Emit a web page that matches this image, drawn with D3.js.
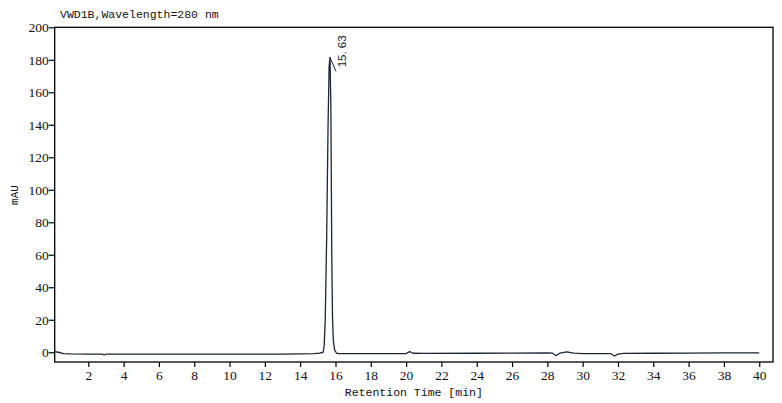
<!DOCTYPE html>
<meta charset="utf-8">
<style>
	body { margin: 0; background: white; }
	.mono { font-family: "Liberation Mono", "DejaVu Sans Mono", monospace; fill: #111; }
	.trace { fill: none; stroke: #1c2637; stroke-width: 1.3px; stroke-linejoin: round; }
</style>
<html>
<body>
<script src="https://d3js.org/d3.v7.min.js"></script>
<script>
	// retention time [min] and signal [mAU]
	var times = [0.1, 0.3, 0.6, 1, 2, 2.8, 2.9, 3.0, 4, 6, 8, 10, 12, 13, 14, 14.8, 15.1,
		15.3, 15.36, 15.42, 15.5, 15.58, 15.64, 15.69, 15.74, 15.79, 15.83, 15.88, 15.95, 16.05,
		16.2, 17, 18, 19, 20, 20.2, 20.4, 21, 24, 26, 28, 28.3, 28.5, 28.7, 29.1, 29.5, 30,
		31, 31.6, 31.8, 32.0, 32.3, 34, 36, 38, 40];
	var signal = [0.4, 0.0, -0.8, -1.0, -1.1, -1.1, -1.7, -1.1, -1.1, -1.1, -1.2, -1.2, -1.2, -1.1, -1.0, -0.9, -0.6,
		0.0, 4, 20, 70, 140, 176, 181.5, 150, 60, 22, 7, 1.5, -0.5,
		-0.8, -0.9, -0.9, -0.9, -0.8, 0.4, -0.6, -0.7, -0.6, -0.5, -0.4, -0.6, -2.1, -0.6, 0.2, -0.5, -0.8,
		-0.9, -0.9, -2.3, -1.2, -0.7, -0.6, -0.5, -0.4, -0.4];

	var xTicks = d3.range(2, 41, 2);
	var yTicks = d3.range(0, 201, 20);

	var peakTime = 15.69, peakValue = 181.5, peakLabel = "15.63";

	var width = 782, height = 403;
	var margin = {top: 27.3, right: 9, bottom: 41, left: 54.7};
	var serif = "'Liberation Serif', 'Times New Roman', 'DejaVu Serif', serif";

	var svg = d3.select("body").append("svg")
		.attr("width", width)
		.attr("height", height)
		.style("background-color", "white");

	var x = d3.scaleLinear()
		.domain([0.097, 40.78])
		.range([margin.left, width - margin.right]);

	var y = d3.scaleLinear()
		.domain([-6, 200])
		.range([height - margin.bottom, margin.top]);

	// frame
	svg.append("rect")
		.attr("x", margin.left)
		.attr("y", margin.top)
		.attr("width", width - margin.right - margin.left)
		.attr("height", height - margin.bottom - margin.top)
		.attr("fill", "none")
		.attr("stroke", "#000")
		.attr("stroke-width", 1.3);

	var xAxis = svg.append("g")
		.attr("transform", `translate(0,${height - margin.bottom})`)
		.call(d3.axisBottom(x).tickValues(xTicks).tickSize(5).tickPadding(3).tickFormat(d3.format("d")));
	xAxis.select(".domain").remove();
	xAxis.selectAll(".tick line").attr("stroke", "#000").attr("stroke-width", 1.2);
	xAxis.selectAll(".tick text")
		.style("font-family", serif)
		.style("font-size", "13.5px")
		.style("fill", "#111");

	var yAxis = svg.append("g")
		.attr("transform", `translate(${margin.left},0)`)
		.call(d3.axisLeft(y).tickValues(yTicks).tickSize(6).tickPadding(0).tickFormat(d3.format("d")));
	yAxis.select(".domain").remove();
	yAxis.selectAll(".tick line").attr("stroke", "#000").attr("stroke-width", 1.2);
	yAxis.selectAll(".tick text")
		.style("font-family", serif)
		.style("font-size", "13.5px")
		.style("fill", "#111");

	var line = d3.line()
		.x(function(d, i) { return x(times[i]); })
		.y(function(d) { return y(d); });

	svg.append("path")
		.datum(signal)
		.attr("class", "trace")
		.attr("d", line);

	// peak annotation
	var px = x(peakTime), py = y(peakValue);
	svg.append("line")
		.attr("x1", px).attr("y1", py)
		.attr("x2", px + 6).attr("y2", py + 14)
		.attr("stroke", "#1c2637")
		.attr("stroke-width", 1);

	svg.append("text")
		.attr("transform", `translate(${px + 15.5},${py + 10}) rotate(-90)`)
		.style("font-family", "'Liberation Sans', Arial, sans-serif")
		.style("font-size", "11.5px")
		.style("fill", "#222")
		.text(peakLabel.replace(".", ". "));

	svg.append("text")
		.attr("class", "mono")
		.attr("x", 60)
		.attr("y", 18.3)
		.style("font-size", "11.5px")
		.text("VWD1B,Wavelength=280 nm");

	svg.append("text")
		.attr("class", "mono")
		.attr("x", (margin.left + width - margin.right) / 2)
		.attr("y", 396)
		.attr("text-anchor", "middle")
		.style("font-size", "11.5px")
		.text("Retention Time [min]");

	svg.append("text")
		.attr("class", "mono")
		.attr("transform", "translate(18,195) rotate(-90)")
		.attr("text-anchor", "middle")
		.style("font-size", "11px")
		.text("mAU");
</script>
</body>
</html>
